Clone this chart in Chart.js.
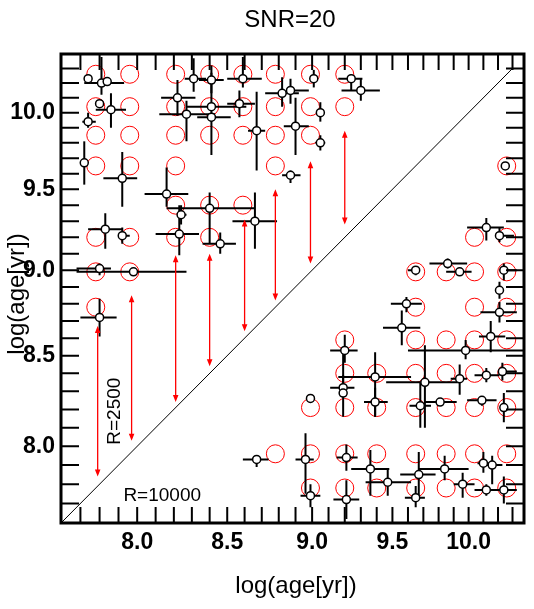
<!DOCTYPE html>
<html>
<head>
<meta charset="utf-8">
<script src="https://cdn.jsdelivr.net/npm/chart.js@4.4.0/dist/chart.umd.min.js"></script>
<style>
  html, body { margin: 0; padding: 0; background: #fff; }
  #wrap { width: 534px; height: 609px; }
</style>
</head>
<body>
<div id="wrap"><canvas id="ageChart" width="534" height="609"></canvas></div>
<script>
// axis limits (both axes logarithmic, log(age) values)
const xAxisMin = 7.6, xAxisMax = 10.38;
const yAxisMin = 7.6, yAxisMax = 10.40;

const tickValues = [7.6, 7.7, 7.8, 7.9, 8.0, 8.1, 8.2, 8.3, 8.4, 8.5, 8.6, 8.7, 8.8, 8.9,
                    9.0, 9.1, 9.2, 9.3, 9.4, 9.5, 9.6, 9.7, 9.8, 9.9, 10.0, 10.1, 10.2, 10.3, 10.4];
const labelledTicks = [8.0, 8.5, 9.0, 9.5, 10.0];

// one-to-one line end points
const diagonal = [7.6, 10.3];

// input ages (red circles)
const circleX = [
  7.78, 7.78, 7.78, 7.78, 7.78, 7.78, 7.78,
  7.96, 7.96, 7.96, 7.96, 7.96, 7.96,
  8.21, 8.21, 8.21, 8.21, 8.21, 8.21,
  8.40, 8.40, 8.40, 8.40, 8.40,
  8.59, 8.59, 8.59, 8.59,
  8.78, 8.78, 8.78, 8.78,
  8.99, 8.99, 8.99,
  9.20, 9.20,
  8.78,
  8.99, 8.99, 8.99,
  9.20, 9.20, 9.20, 9.20, 9.20,
  9.40, 9.40, 9.40, 9.40,
  9.65, 9.65, 9.65, 9.65, 9.65, 9.65, 9.65,
  9.85, 9.85, 9.85, 9.85, 9.85, 9.85,
  10.04, 10.04, 10.04, 10.04, 10.04, 10.04, 10.04, 10.04,
  10.26, 10.26, 10.26, 10.26, 10.26, 10.26, 10.26, 10.26, 10.26
];
const circleY = [
  8.78, 8.99, 9.20, 9.65, 9.85, 10.04, 10.26,
  8.99, 9.20, 9.65, 9.85, 10.04, 10.26,
  9.20, 9.40, 9.65, 9.85, 10.04, 10.26,
  9.20, 9.40, 9.85, 10.04, 10.26,
  9.40, 9.85, 10.04, 10.26,
  9.65, 9.85, 10.04, 10.26,
  9.85, 10.04, 10.26,
  10.04, 10.26,
  7.96,
  7.78, 7.96, 8.21,
  7.78, 7.96, 8.21, 8.40, 8.59,
  7.78, 7.96, 8.21, 8.40,
  7.78, 7.96, 8.21, 8.40, 8.59, 8.78, 8.99,
  7.78, 7.96, 8.21, 8.40, 8.59, 8.99,
  7.78, 7.96, 8.21, 8.40, 8.59, 8.78, 8.99, 9.20,
  7.78, 7.96, 8.21, 8.40, 8.59, 8.78, 8.99, 9.20, 9.65
];

// recovered ages (black points) with error ranges
const fitX = [7.74, 7.81, 7.84, 7.80, 7.86, 7.74, 7.72, 7.92, 8.16, 8.24,
  8.40, 8.66, 7.83, 7.92, 8.23, 8.46, 8.22, 8.27, 8.41, 8.41,
  8.31, 8.41, 8.59, 8.57, 8.67, 8.82, 8.87, 8.90, 8.87, 9.01,
  9.24, 9.30, 9.05, 9.05, 10.25, 10.12, 10.21, 7.80, 7.98, 7.80,
  8.67, 9.86, 9.65, 9.94, 10.24, 10.21, 9.59, 10.21, 9.56, 10.15,
  9.98, 9.20, 9.39, 9.71, 9.94, 10.12, 10.23, 9.19, 9.19, 8.99,
  9.39, 9.68, 9.81, 10.09, 10.24, 8.96, 9.21, 9.36, 9.47, 9.67,
  9.84, 10.10, 10.16, 9.96, 10.12, 10.24, 8.99, 9.21, 9.65];
const fitXLo = [7.73, 7.72, 7.82, 7.78, 7.78, 7.71, 7.72, 7.82, 8.04, 8.22,
  8.16, 8.53, 7.74, 7.90, 8.10, 8.36, 8.13, 8.12, 8.27, 8.33,
  8.26, 8.34, 8.50, 8.50, 8.62, 8.72, 8.86, 8.83, 8.82, 9.01,
  9.16, 9.18, 9.05, 9.02, 10.23, 9.99, 10.18, 7.68, 7.68, 7.70,
  8.59, 9.74, 9.60, 9.85, 10.21, 10.19, 9.49, 10.08, 9.44, 10.07,
  9.60, 9.11, 9.16, 9.46, 9.88, 10.04, 10.20, 9.11, 9.19, 8.99,
  9.32, 9.61, 9.71, 9.99, 10.22, 8.90, 9.15, 9.24, 9.33, 9.55,
  9.67, 10.06, 10.12, 9.90, 10.04, 10.18, 8.93, 9.13, 9.58];
const fitXHi = [7.76, 7.93, 7.86, 7.82, 7.94, 7.78, 7.72, 8.00, 8.28, 8.27,
  8.66, 8.79, 7.92, 7.96, 8.34, 8.55, 8.32, 8.43, 8.61, 8.52,
  8.38, 8.48, 8.70, 8.66, 8.72, 8.92, 8.98, 8.98, 8.93, 9.01,
  9.31, 9.42, 9.05, 9.08, 10.26, 10.24, 10.31, 7.86, 8.27, 7.89,
  8.74, 9.99, 9.67, 10.02, 10.33, 10.23, 9.69, 10.33, 9.68, 10.25,
  10.38, 9.28, 9.62, 9.94, 9.99, 10.21, 10.33, 9.26, 9.19, 8.99,
  9.47, 9.75, 9.92, 10.19, 10.26, 9.01, 9.28, 9.48, 9.62, 9.78,
  10.00, 10.17, 10.23, 10.04, 10.20, 10.33, 9.05, 9.29, 9.71];
const fitY = [10.23, 10.20, 10.21, 10.06, 10.02, 9.94, 9.67, 9.57, 9.47, 9.34,
  9.38, 9.30, 9.25, 9.21, 9.22, 9.16, 10.10, 9.99, 10.04, 9.97,
  10.23, 10.22, 10.23, 10.06, 9.88, 10.13, 10.15, 9.91, 9.59, 10.23,
  10.23, 10.15, 10.00, 9.80, 9.65, 9.26, 9.21, 9.01, 8.99, 8.72,
  7.93, 9.04, 9.00, 8.99, 9.00, 8.88, 8.80, 8.75, 8.66, 8.61,
  8.53, 8.53, 8.38, 8.35, 8.37, 8.39, 8.41, 8.32, 8.29, 8.26,
  8.24, 8.22, 8.24, 8.25, 8.21, 7.93, 7.94, 7.88, 7.81, 7.85,
  7.88, 7.91, 7.90, 7.80, 7.77, 7.77, 7.74, 7.72, 7.73];
const fitYLo = [10.21, 10.12, 10.19, 10.04, 9.90, 9.90, 9.53, 9.39, 9.39, 9.28,
  9.16, 9.13, 9.13, 9.16, 9.09, 9.10, 9.98, 9.81, 9.72, 9.94,
  10.14, 10.13, 10.17, 9.97, 9.62, 10.04, 10.06, 9.72, 9.54, 10.17,
  10.15, 10.08, 9.94, 9.75, 9.63, 9.18, 9.17, 8.97, 8.97, 8.61,
  7.89, 9.01, 8.97, 8.97, 8.94, 8.83, 8.75, 8.69, 8.56, 8.52,
  8.48, 8.46, 8.16, 8.10, 8.28, 8.35, 8.36, 8.28, 8.16, 8.26,
  8.16, 8.10, 8.22, 8.22, 8.13, 7.75, 7.87, 7.74, 7.74, 7.73,
  7.82, 7.86, 7.80, 7.73, 7.74, 7.70, 7.68, 7.62, 7.68];
const fitYHi = [10.25, 10.38, 10.23, 10.08, 10.13, 10.00, 9.81, 9.74, 9.64, 9.40,
  9.48, 9.48, 9.35, 9.26, 9.40, 9.23, 10.22, 10.08, 10.27, 10.00,
  10.37, 10.32, 10.38, 10.15, 10.14, 10.24, 10.23, 10.10, 9.62, 10.29,
  10.26, 10.23, 10.07, 9.85, 9.67, 9.32, 9.26, 9.04, 9.01, 8.83,
  7.95, 9.07, 9.02, 9.01, 9.04, 8.93, 8.84, 8.81, 8.76, 8.70,
  8.59, 8.62, 8.52, 8.56, 8.45, 8.43, 8.46, 8.39, 8.53, 8.26,
  8.32, 8.35, 8.26, 8.27, 8.29, 8.07, 8.01, 7.98, 7.88, 7.97,
  7.95, 7.97, 7.95, 7.86, 7.80, 7.84, 7.80, 7.82, 7.79];

// red double arrows
const arrowAge = [7.79, 7.97, 8.21, 8.40, 8.60, 8.78, 8.99, 9.20];
const arrowTop = [8.67, 8.85, 9.09, 9.10, 9.31, 9.50, 9.68, 9.88];
const arrowBottom = [7.84, 8.03, 8.24, 8.44, 8.64, 8.82, 9.04, 9.28];

const FONT = '"Liberation Sans", Arial, Helvetica, sans-serif';

function isLabelled(v) {
  return labelledTicks.some(t => Math.abs(t - v) < 1e-6);
}

const decorations = {
  id: 'decorations',
  beforeDatasetDraw(chart, args) {
    if (chart.data.datasets[args.index].label !== 'fit') return;
    const ctx = chart.ctx, xs = chart.scales.x, ys = chart.scales.y, a = chart.chartArea;
    ctx.save();
    ctx.beginPath();
    ctx.rect(a.left, a.top, a.right - a.left, a.bottom - a.top);
    ctx.clip();
    ctx.strokeStyle = '#000';
    ctx.lineWidth = 2;
    fitX.forEach((x, i) => {
      const px = xs.getPixelForValue(x), py = ys.getPixelForValue(fitY[i]);
      ctx.beginPath();
      ctx.moveTo(xs.getPixelForValue(fitXLo[i]), py);
      ctx.lineTo(xs.getPixelForValue(fitXHi[i]), py);
      ctx.moveTo(px, ys.getPixelForValue(fitYLo[i]));
      ctx.lineTo(px, ys.getPixelForValue(fitYHi[i]));
      ctx.stroke();
    });
    ctx.restore();
  },
  afterDatasetsDraw(chart) {
    const ctx = chart.ctx, xs = chart.scales.x, ys = chart.scales.y, a = chart.chartArea;
    ctx.save();
    // arrows
    ctx.strokeStyle = '#ff0000';
    ctx.fillStyle = '#ff0000';
    ctx.lineWidth = 1.3;
    arrowAge.forEach((x, i) => {
      const px = xs.getPixelForValue(x);
      const t = ys.getPixelForValue(arrowTop[i]);
      const b = ys.getPixelForValue(arrowBottom[i]);
      ctx.beginPath();
      ctx.moveTo(px, t + 3);
      ctx.lineTo(px, b - 3);
      ctx.stroke();
      ctx.beginPath();
      ctx.moveTo(px, t); ctx.lineTo(px - 2.8, t + 7); ctx.lineTo(px + 2.8, t + 7); ctx.closePath();
      ctx.moveTo(px, b); ctx.lineTo(px - 2.8, b - 7); ctx.lineTo(px + 2.8, b - 7); ctx.closePath();
      ctx.fill();
    });

    // labels inside the plot
    ctx.fillStyle = '#000';
    ctx.font = '19px ' + FONT;
    ctx.textAlign = 'center';
    ctx.textBaseline = 'middle';
    ctx.fillText('R=10000', xs.getPixelForValue(8.136), ys.getPixelForValue(7.74));
    ctx.save();
    ctx.translate(xs.getPixelForValue(7.88), ys.getPixelForValue(8.19));
    ctx.rotate(-Math.PI / 2);
    ctx.fillText('R=2500', 0, 0);
    ctx.restore();

    // inward ticks on all four sides
    ctx.strokeStyle = '#000';
    ctx.lineWidth = 2;
    ctx.beginPath();
    xs.ticks.forEach(t => {
      const px = xs.getPixelForValue(t.value);
      ctx.moveTo(px, a.bottom); ctx.lineTo(px, a.bottom - 16);
      ctx.moveTo(px, a.top); ctx.lineTo(px, a.top + 16);
    });
    ys.ticks.forEach(t => {
      const py = ys.getPixelForValue(t.value);
      ctx.moveTo(a.left, py); ctx.lineTo(a.left + 18, py);
      ctx.moveTo(a.right, py); ctx.lineTo(a.right - 18, py);
    });
    ctx.stroke();

    // frame
    ctx.lineWidth = 3;
    ctx.strokeRect(a.left, a.top, a.right - a.left, a.bottom - a.top);
    ctx.restore();
  },
  afterDraw(chart) {
    const ctx = chart.ctx;
    ctx.save();
    ctx.fillStyle = '#000';
    ctx.font = '24px ' + FONT;
    ctx.textAlign = 'center';
    ctx.textBaseline = 'alphabetic';
    ctx.fillText('SNR=20', 290, 27);
    ctx.fillText('log(age[yr])', 296, 593);
    ctx.translate(24, 294);
    ctx.rotate(-Math.PI / 2);
    ctx.fillText('log(age[yr])', 0, 0);
    ctx.restore();
  }
};

function axisOptions(min, max, pos) {
  return {
    type: 'logarithmic',
    position: pos,
    min: min,
    max: max,
    bounds: 'data',
    grid: { display: false, drawTicks: false },
    border: { display: false },
    afterBuildTicks: (scale) => {
      scale.ticks = tickValues.filter(v => v >= min - 1e-9 && v <= max + 1e-9).map(v => ({ value: v }));
    },
    ticks: {
      autoSkip: false,
      maxRotation: 0,
      minRotation: 0,
      padding: 6,
      color: '#000',
      font: { family: FONT, size: 23, weight: 'bold' },
      callback: (v) => isLabelled(v) ? Number(v).toFixed(1) : ''
    }
  };
}

const xOpts = axisOptions(xAxisMin, xAxisMax, 'bottom');
xOpts.afterFit = (scale) => { scale.height = 86; };
const yOpts = axisOptions(yAxisMin, yAxisMax, 'left');
yOpts.afterFit = (scale) => { scale.width = 61; };

new Chart(document.getElementById('ageChart').getContext('2d'), {
  type: 'scatter',
  data: {
    datasets: [
      {
        label: 'fit',
        order: 0,
        data: fitX.map((x, i) => ({ x: x, y: fitY[i] })),
        pointRadius: 4,
        pointBackgroundColor: '#fff',
        pointBorderColor: '#000',
        pointBorderWidth: 1.5
      },
      {
        label: 'input',
        order: 1,
        data: circleX.map((x, i) => ({ x: x, y: circleY[i] })),
        pointRadius: 9,
        pointBackgroundColor: 'rgba(0,0,0,0)',
        pointBorderColor: '#ff0000',
        pointBorderWidth: 1
      },
      {
        label: 'one-to-one',
        order: 2,
        data: diagonal.map(v => ({ x: v, y: v })),
        showLine: true,
        borderColor: '#000',
        borderWidth: 1,
        pointRadius: 0
      }
    ]
  },
  options: {
    responsive: false,
    animation: false,
    devicePixelRatio: 1,
    layout: { padding: { left: 0, right: 6, top: 54, bottom: 0 } },
    plugins: {
      legend: { display: false },
      tooltip: { enabled: false },
      title: { display: false }
    },
    scales: { x: xOpts, y: yOpts }
  },
  plugins: [decorations]
});
</script>
</body>
</html>
